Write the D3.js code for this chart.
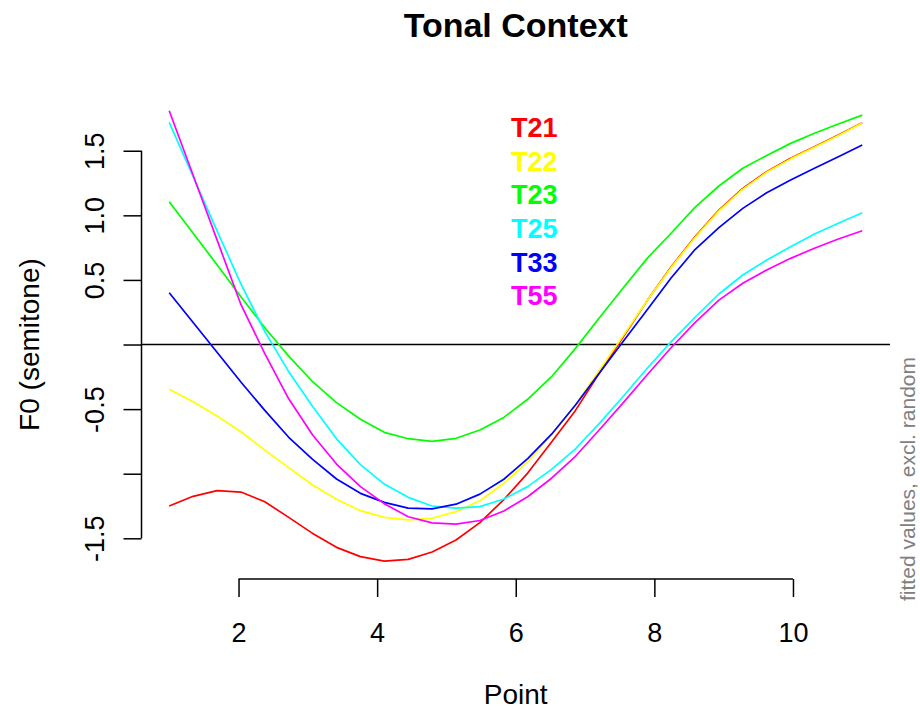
<!DOCTYPE html>
<html>
<head>
<meta charset="utf-8">
<script src="https://cdn.jsdelivr.net/npm/d3@7"></script>
<style>
  html, body { margin: 0; padding: 0; background: #fff; }
  svg { display: block; }
  text { font-family: "Liberation Sans", Arial, Helvetica, sans-serif; }
</style>
</head>
<body>
<svg id="chart" width="920" height="710"></svg>
<script>
// ---- data ----
const points = [1.000, 1.345, 1.690, 2.034, 2.379, 2.724, 3.069, 3.414, 3.759, 4.103,
                4.448, 4.793, 5.138, 5.483, 5.828, 6.172, 6.517, 6.862, 7.207, 7.552,
                7.897, 8.241, 8.586, 8.931, 9.276, 9.621, 9.966, 10.310, 10.655, 11.000];

const seriesNames = ["T21", "T22", "T23", "T25", "T33", "T55"];
const seriesColors = ["#FF0000", "#FFFF00", "#00FF00", "#00FFFF", "#0000FF", "#FF00FF"];

const T21 = [-1.250, -1.175, -1.131, -1.142, -1.217, -1.338, -1.462, -1.570, -1.642, -1.676,
             -1.663, -1.606, -1.513, -1.379, -1.200, -0.995, -0.755, -0.510, -0.220, 0.060,
              0.340,  0.600,  0.834,  1.041,  1.209,  1.338,  1.441,  1.531,  1.621, 1.717];
const T22 = [-0.347, -0.443, -0.553, -0.675, -0.817, -0.953, -1.087, -1.198, -1.286, -1.338,
             -1.358, -1.345, -1.294, -1.209, -1.074, -0.907, -0.700, -0.468, -0.200, 0.070,
              0.340,  0.595,  0.828,  1.035,  1.203,  1.333,  1.437,  1.527,  1.618, 1.714];
const T23 = [ 1.105,  0.862,  0.617,  0.370,  0.130, -0.090, -0.288, -0.450, -0.579, -0.680,
             -0.729, -0.749, -0.726, -0.662, -0.564, -0.424, -0.249, -0.030,  0.208, 0.440,
              0.667,  0.861,  1.062,  1.227,  1.364,  1.464,  1.557,  1.635,  1.707, 1.776];
const T25 = [ 1.720,  1.300,  0.880,  0.470,  0.100, -0.210, -0.480, -0.730, -0.930, -1.080,
             -1.183, -1.250, -1.267, -1.255, -1.196, -1.100, -0.966, -0.807, -0.610, -0.400,
             -0.184,  0.020,  0.211,  0.391,  0.538,  0.654,  0.757,  0.855,  0.938, 1.020];
const T33 = [ 0.401,  0.170, -0.060, -0.290, -0.510, -0.718, -0.889, -1.041, -1.152, -1.222,
             -1.266, -1.272, -1.236, -1.158, -1.043, -0.883, -0.694, -0.468, -0.220, 0.025,
              0.270,  0.515,  0.735,  0.905,  1.054,  1.175,  1.273,  1.364,  1.454, 1.544];
const T55 = [ 1.810,  1.310,  0.810,  0.310, -0.070, -0.420, -0.700, -0.925, -1.100, -1.232,
             -1.333, -1.381, -1.390, -1.362, -1.289, -1.178, -1.035, -0.865, -0.660, -0.450,
             -0.234, -0.025,  0.169,  0.344,  0.474,  0.577,  0.667,  0.745,  0.817, 0.881];

const xTicks = [2, 4, 6, 8, 10];
const yTicks = [-1.5, -1.0, -0.5, 0, 0.5, 1.0, 1.5];
const yTickLabels = ["-1.5", "", "-0.5", "", "0.5", "1.0", "1.5"];

const titleText = "Tonal Context";
const xLabel = "Point";
const yLabel = "F0 (semitone)";
const sideNote = "fitted values, excl. random";

// ---- layout ----
const allSeries = [T21, T22, T23, T25, T33, T55];
const plot = { left: 141.5, right: 890, top: 92.6, bottom: 579 };

const x = d3.scaleLinear().domain([0.6, 11.4]).range([plot.left, plot.right]);
const y = d3.scaleLinear().domain([-1.815, 1.95]).range([plot.bottom, plot.top]);

const svg = d3.select("#chart");

// title
svg.append("text")
  .attr("x", (plot.left + plot.right) / 2).attr("y", 37)
  .attr("text-anchor", "middle")
  .attr("font-size", 34).attr("font-weight", "bold")
  .text(titleText);

// zero reference line
svg.append("line")
  .attr("x1", plot.left).attr("x2", plot.right)
  .attr("y1", y(0)).attr("y2", y(0))
  .attr("stroke", "#000").attr("stroke-width", 1.5);

// series lines
const line = d3.line().x((d, i) => x(points[i])).y(d => y(d));
allSeries.forEach((s, k) => {
  svg.append("path")
    .datum(s)
    .attr("d", line)
    .attr("fill", "none")
    .attr("stroke", seriesColors[k])
    .attr("stroke-width", 1.7)
    .attr("stroke-linejoin", "round");
});

// x axis
const xAxis = d3.axisBottom(x).tickValues(xTicks).tickSize(18).tickSizeOuter(0)
  .tickFormat(d3.format("d"));
const gx = svg.append("g").attr("transform", `translate(0,${plot.bottom})`).call(xAxis);
gx.select(".domain").attr("d", `M${x(xTicks[0])},0H${x(xTicks[xTicks.length - 1])}`)
  .attr("stroke", "#000").attr("stroke-width", 1.5);
gx.selectAll(".tick line").attr("stroke", "#000").attr("stroke-width", 1.5);
gx.selectAll(".tick text").attr("font-size", 27).attr("fill", "#000")
  .attr("font-family", "Liberation Sans, Arial, sans-serif")
  .attr("y", 44).attr("dy", "0.71em");

// y axis
const yAxis = d3.axisLeft(y).tickValues(yTicks).tickSize(18).tickSizeOuter(0)
  .tickFormat((d, i) => yTickLabels[i]);
const gy = svg.append("g").attr("transform", `translate(${plot.left},0)`).call(yAxis);
gy.select(".domain").attr("d", `M0,${y(yTicks[0])}V${y(yTicks[yTicks.length - 1])}`)
  .attr("stroke", "#000").attr("stroke-width", 1.5);
gy.selectAll(".tick line").attr("stroke", "#000").attr("stroke-width", 1.5);
gy.selectAll(".tick text")
  .attr("font-size", 27).attr("fill", "#000")
  .attr("font-family", "Liberation Sans, Arial, sans-serif")
  .attr("x", null).attr("dy", null)
  .attr("text-anchor", "middle")
  .attr("transform", "translate(-38,0) rotate(-90)");

// axis titles
svg.append("text")
  .attr("x", (plot.left + plot.right) / 2).attr("y", 704)
  .attr("text-anchor", "middle").attr("font-size", 28)
  .text(xLabel);

svg.append("text")
  .attr("transform", `translate(39,${y(0)}) rotate(-90)`)
  .attr("text-anchor", "middle").attr("font-size", 28)
  .text(yLabel);

// side note
svg.append("text")
  .attr("transform", `translate(915,479) rotate(-90)`)
  .attr("text-anchor", "middle").attr("font-size", 21).attr("fill", "#808080")
  .text(sideNote);

// legend
const legendBase = [137, 171, 204, 238, 272, 305];
seriesNames.forEach((name, k) => {
  svg.append("text")
    .attr("x", 511).attr("y", legendBase[k])
    .attr("font-size", 27).attr("font-weight", "bold")
    .attr("fill", seriesColors[k])
    .text(name);
});
</script>
</body>
</html>
